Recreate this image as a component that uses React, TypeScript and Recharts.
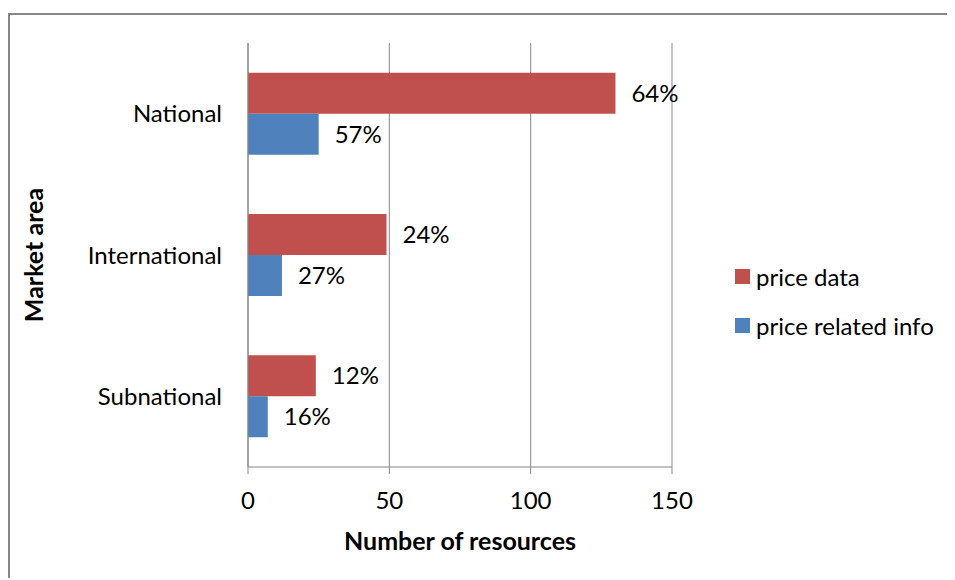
import { Bar, BarChart, CartesianGrid, LabelList, XAxis, YAxis } from "recharts";

// resources per market area
const areas = ["National", "International", "Subnational"];
const priceData = [130, 49, 24];
const priceRelatedInfo = [25, 12, 7];
const priceDataShare = ["64%", "24%", "12%"];
const priceRelatedInfoShare = ["57%", "27%", "16%"];
const xTicks = [0, 50, 100, 150];

const series = [
  { key: "priceData", label: "priceDataShare", name: "price data", color: "#C0504D" },
  { key: "priceRelatedInfo", label: "priceRelatedInfoShare", name: "price related info", color: "#4F81BD" },
];

const rows = areas.map((area, i) => ({
  area,
  priceData: priceData[i],
  priceRelatedInfo: priceRelatedInfo[i],
  priceDataShare: priceDataShare[i],
  priceRelatedInfoShare: priceRelatedInfoShare[i],
}));

const font = "Lato, 'Open Sans', sans-serif";
const axisGrey = "#868686";
const textSize = 24;
const titleSize = 25;

const YTitle = ({ viewBox }: any) => (
  <text
    x={viewBox.x + 23}
    y={viewBox.y + viewBox.height / 2}
    transform={`rotate(-90 ${viewBox.x + 23} ${viewBox.y + viewBox.height / 2})`}
    textAnchor="middle"
    dominantBaseline="central"
    fontFamily={font}
    fontWeight="bold"
    fontSize={titleSize}
    fill="#000"
  >
    Market area
  </text>
);

const XTitle = ({ viewBox }: any) => (
  <text
    x={viewBox.x + viewBox.width / 2}
    y={viewBox.y + 83}
    textAnchor="middle"
    fontFamily={font}
    fontWeight="bold"
    fontSize={titleSize}
    fill="#000"
  >
    Number of resources
  </text>
);

const App = () => {
  return (
    <div
      style={{
        marginTop: 5,
        borderTop: `2px solid ${axisGrey}`,
        borderLeft: `2px solid ${axisGrey}`,
        width: 945,
        height: 563,
        position: "relative",
        fontFamily: font,
      }}
    >
      <BarChart
        width={945}
        height={563}
        data={rows}
        layout="vertical"
        margin={{ top: 28, right: 283, left: 0, bottom: 0 }}
        barCategoryGap="21%"
        barGap={0}
      >
        <CartesianGrid horizontal={false} stroke={axisGrey} />
        <XAxis
          type="number"
          domain={[0, 150]}
          ticks={xTicks}
          height={111}
          tickSize={7}
          tickMargin={18}
          stroke={axisGrey}
          tick={{ fill: "#000", fontSize: textSize, fontFamily: font }}
          label={{ content: XTitle }}
        />
        <YAxis
          type="category"
          dataKey="area"
          width={238}
          tickLine={false}
          tickSize={0}
          tickMargin={26}
          stroke={axisGrey}
          tick={{ fill: "#000", fontSize: textSize, fontFamily: font }}
          label={{ content: YTitle }}
        />
        {series.map((s) => (
          <Bar key={s.key} dataKey={s.key} name={s.name} fill={s.color} isAnimationActive={false}>
            <LabelList
              dataKey={s.label}
              position="right"
              offset={16}
              fill="#000"
              fontSize={textSize}
              fontFamily={font}
            />
          </Bar>
        ))}
      </BarChart>
      <div style={{ position: "absolute", left: 725, top: 237 }}>
        {series.map((s) => (
          <div
            key={s.key}
            style={{ display: "flex", alignItems: "center", height: 49, fontSize: textSize }}
          >
            <span style={{ width: 15, height: 15, background: s.color, marginRight: 6 }} />
            <span>{s.name}</span>
          </div>
        ))}
      </div>
    </div>
  );
};

export default App;
